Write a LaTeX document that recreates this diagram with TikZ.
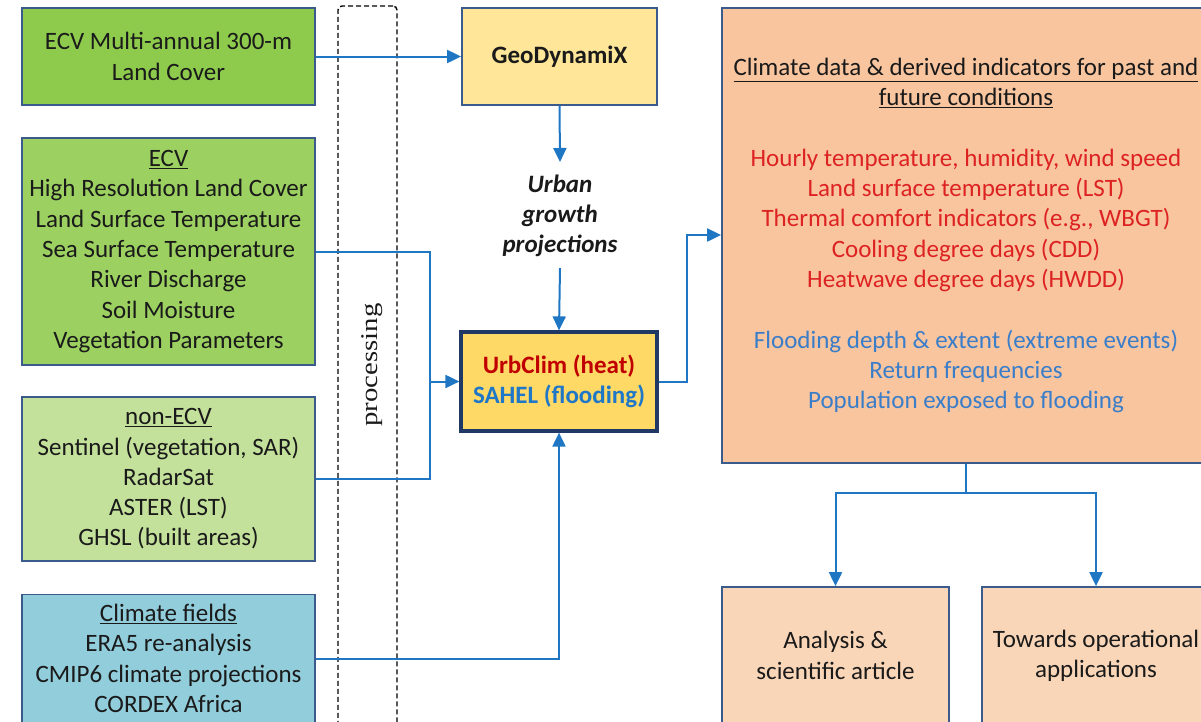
\documentclass[tikz,border=0pt]{standalone}
\usepackage{fontspec}
\usepackage{graphicx}
\setmainfont{Carlito}
\newfontfamily\procfont{Liberation Serif}
\usetikzlibrary{arrows.meta}
\definecolor{bordc}{HTML}{3B5B8D}
\definecolor{navy}{HTML}{1F3864}
\definecolor{arrc}{HTML}{1F77C4}
\definecolor{gA}{HTML}{8ECB4D}
\definecolor{gB}{HTML}{9CD161}
\definecolor{gC}{HTML}{C3E19B}
\definecolor{bluebox}{HTML}{92CDDC}
\definecolor{geoc}{HTML}{FFE699}
\definecolor{urbc}{HTML}{FFD966}
\definecolor{bigc}{HTML}{F8C59F}
\definecolor{smallc}{HTML}{FAD6B8}
\definecolor{redt}{HTML}{DD2222}
\definecolor{darkred}{HTML}{C00000}
\definecolor{bluet}{HTML}{3A7DC9}
\definecolor{sahelc}{HTML}{1F77C8}
\definecolor{txt}{HTML}{1A1A1A}
\begin{document}
\begin{tikzpicture}[x=1pt,y=-1pt,
  box/.style={draw=bordc, line width=1.8pt, inner sep=0pt, align=center,
    text=txt, font=\fontsize{25}{30.3}\selectfont},
  arr/.style={draw=arrc, line width=2pt, -{Triangle[length=14pt,width=13pt]}},
  ln/.style={draw=arrc, line width=2pt}]
\useasboundingbox (0,0) rectangle (1201,721);
\clip (0,0) rectangle (1201,721);
\fill[white] (0,0) rectangle (1201,721);

% input boxes
\node[box, fill=gA, minimum width=293pt, minimum height=97pt] (b1) at (168.5,56.5)
  {ECV Multi-annual 300-m\\Land Cover};
\node[box, fill=gB, minimum width=293pt, minimum height=227pt] (b2) at (168.5,251.5)
  {\underline{ECV}\\High Resolution Land Cover\\Land Surface Temperature\\Sea Surface Temperature\\River Discharge\\Soil Moisture\\Vegetation Parameters};
\node[box, fill=gC, minimum width=293pt, minimum height=164pt] (b3) at (168.5,479)
  {\underline{non-ECV}\\Sentinel (vegetation, SAR)\\RadarSat\\ASTER (LST)\\GHSL (built areas)};
\node[box, fill=bluebox, minimum width=293pt, minimum height=128pt] (b4) at (168.5,658.5)
  {\underline{Climate fields}\\ERA5 re-analysis\\CMIP6 climate projections\\CORDEX Africa};

% processing
\node[draw=black, dashed, dash pattern=on 5pt off 3pt, line width=1.4pt, rounded corners=4pt,
  minimum width=59pt, minimum height=740pt, inner sep=0pt] (procbox) at (367.5,376) {};
\node[rotate=90, text=txt, inner sep=0pt] (proclabel) at (372,365)
  {\procfont\fontsize{24}{28}\selectfont\scalebox{1.2}[1]{processing}};

% models
\node[box, fill=geoc, minimum width=195pt, minimum height=97pt, font=\fontsize{25}{30.3}\selectfont\bfseries] (geo) at (559.5,56.5) {GeoDynamiX};
\node[align=center, inner sep=0pt, text=txt, font=\fontsize{25}{30.3}\selectfont\bfseries\itshape] (urban) at (560,216)
  {Urban\\growth\\projections};
\node[box, draw=navy, line width=3.2pt, fill=urbc, minimum width=196pt, minimum height=99pt, font=\fontsize{25}{30.3}\selectfont\bfseries] (urb) at (559,381.5)
  {\textcolor{darkred}{UrbClim (heat)}\\\textcolor{sahelc}{SAHEL (flooding)}};

% outputs
\node[box, fill=bigc, minimum width=488pt, minimum height=455pt] (big) at (966,235.5)
  {\underline{Climate data \& derived indicators for past and}\\
   \underline{future conditions}\\[30.3pt]
   \textcolor{redt}{Hourly temperature, humidity, wind speed}\\
   \textcolor{redt}{Land surface temperature (LST)}\\
   \textcolor{redt}{Thermal comfort indicators (e.g., WBGT)}\\
   \textcolor{redt}{Cooling degree days (CDD)}\\
   \textcolor{redt}{Heatwave degree days (HWDD)}\\[30.3pt]
   \textcolor{bluet}{Flooding depth \& extent (extreme events)}\\
   \textcolor{bluet}{Return frequencies}\\
   \textcolor{bluet}{Population exposed to flooding}};
\node[box, fill=smallc, minimum width=227pt, minimum height=137pt] (ana) at (835.5,655.5)
  {Analysis \&\\scientific article};
\node[box, fill=smallc, minimum width=228pt, minimum height=137pt] (tow) at (1096,655.5)
  {Towards operational\\applications};

% connectors
\coordinate (ua) at (560,162);
\coordinate (ub) at (560,268);
\coordinate (m) at (430,381.5);
\coordinate (ry) at (0,235);
\draw[arr] (b1.east) -- (geo.west);
\draw[arr] (geo.south) -- (ua);
\draw[arr] (ub) -- (urb.north);
\draw[ln] (b2.east) -| (m);
\draw[ln] (b3.east) -| (m);
\draw[arr] (m) -- (urb.west);
\draw[arr] (b4.east) -| (urb.south);
\draw[arr] (urb.east) -- ++(28,0) |- (big.west |- ry);
\draw[arr] (big.south) -- ++(0,29) -| (ana.north);
\draw[arr] (big.south) -- ++(0,29) -| (tow.north);
\end{tikzpicture}
\end{document}
